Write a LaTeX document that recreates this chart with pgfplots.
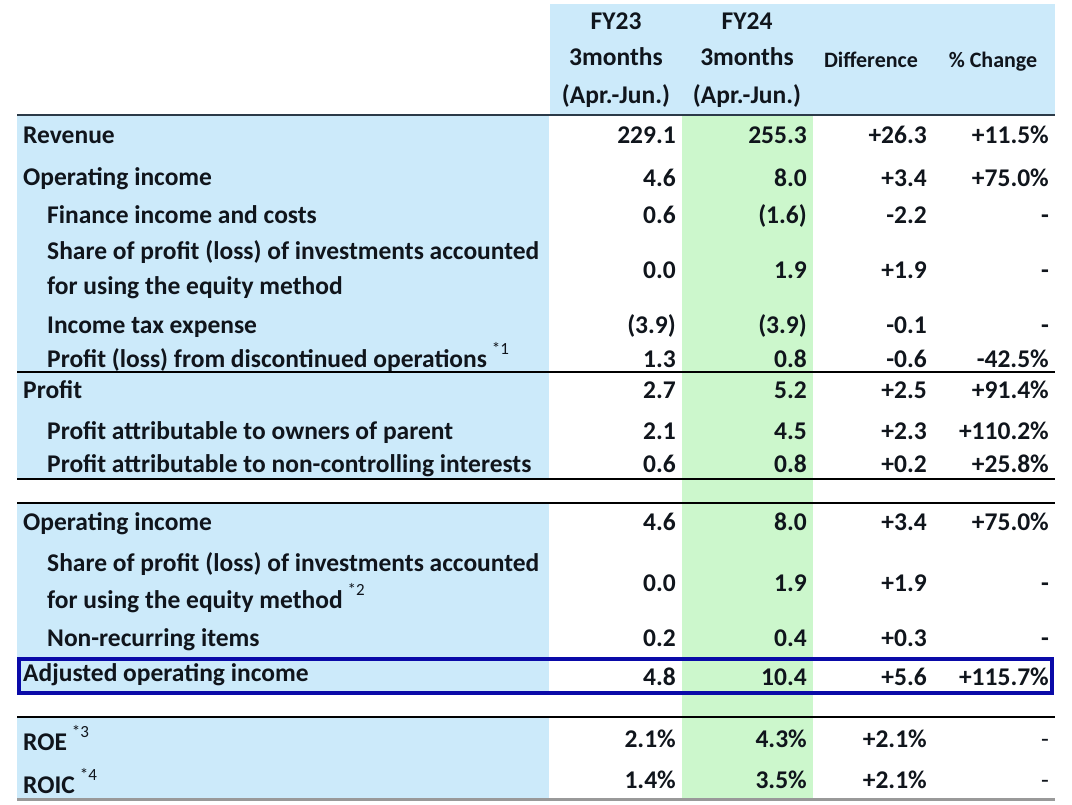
\documentclass[border=0pt]{standalone}
\usepackage{pgfplots}
\usepackage{pgfplotstable}
\pgfplotsset{compat=1.18}
\usepackage{fontspec}
\setmainfont{Carlito}
\definecolor{lblue}{RGB}{204,234,250}
\definecolor{lgreen}{RGB}{204,247,204}
\definecolor{txt}{HTML}{10151C}
\definecolor{boxblue}{HTML}{0A0AA8}
\definecolor{hline}{HTML}{2B3A48}
\protected\def\sup#1{\hspace{5bp}\raisebox{13bp}{\fontsize{17bp}{17bp}\selectfont\mdseries #1}}
\protected\def\hsmall{\fontsize{22bp}{26bp}\selectfont}
\protected\def\thin{\mdseries}

\pgfplotstableread[col sep=comma]{
y,a,b,d,p
144,229.1,255.3,+26.3,+11.5\%
186,4.6,8.0,+3.4,+75.0\%
223,0.6,(1.6),-2.2,-
278,0.0,1.9,+1.9,-
333,(3.9),(3.9),-0.1,-
367,1.3,0.8,-0.6,-42.5\%
398,2.7,5.2,+2.5,+91.4\%
439,2.1,4.5,+2.3,+110.2\%
472,0.6,0.8,+0.2,+25.8\%
530,4.6,8.0,+3.4,+75.0\%
591,0.0,1.9,+1.9,-
646,0.2,0.4,+0.3,-
685,4.8,10.4,+5.6,+115.7\%
747,2.1\%,4.3\%,+2.1\%,\thin -
788,1.4\%,3.5\%,+2.1\%,\thin -
}\valtable

\pgfplotstableread[col sep=comma]{
x,y,t
23,144,Revenue
23,185,Operating income
47,223,Finance income and costs
47,259,Share of profit (loss) of investments accounted
47,294,for using the equity method
47,333,Income tax expense
47,367,Profit (loss) from discontinued operations\sup{*1}
23,398,Profit
47,439,Profit attributable to owners of parent
47,472,Profit attributable to non-controlling interests
23,530,Operating income
47,571,Share of profit (loss) of investments accounted
47,608,for using the equity method\sup{*2}
47,646,Non-recurring items
23,681,Adjusted operating income
23,750,ROE\sup{*3}
23,793,ROIC\sup{*4}
}\labtable

\pgfplotstableread[col sep=comma]{
x,y,t
616,30,FY23
616,66,3months
616,104,(Apr.-Jun.)
747,30,FY24
747,66,3months
747,104,(Apr.-Jun.)
871,68,\hsmall Difference
993,68,\hsmall \% Change
}\headtable

\begin{document}
\begin{tikzpicture}
\useasboundingbox (0,0) rectangle (1072bp,805bp);
\begin{axis}[
  width=1072bp, height=805bp, scale only axis,
  xmin=0, xmax=1072, ymin=0, ymax=805, y dir=reverse,
  hide axis, clip=false,
  every node near coord/.append style={inner sep=0pt, text=txt, font=\fontsize{25.5bp}{30bp}\selectfont\bfseries},
]
% backgrounds
\addplot[fill=lblue, draw=none] coordinates {(17,115) (549,115) (549,479) (17,479)} -- cycle;
\addplot[fill=lblue, draw=none] coordinates {(17,503) (549,503) (549,695) (17,695)} -- cycle;
\addplot[fill=lblue, draw=none] coordinates {(17,717) (549,717) (549,799) (17,799)} -- cycle;
\addplot[fill=lblue, draw=none] coordinates {(550,4) (1055,4) (1055,115) (550,115)} -- cycle;
\addplot[fill=lgreen, draw=none] coordinates {(682,115) (813,115) (813,799) (682,799)} -- cycle;
% rules
\addplot[hline, line width=2.2bp] coordinates {(17,115) (1055,115)};
\addplot[black, line width=1.4bp] coordinates {(17,372) (1055,372)};
\addplot[black, line width=1.4bp] coordinates {(17,479) (1055,479)};
\addplot[black, line width=1.4bp] coordinates {(17,503) (1055,503)};
\addplot[black, line width=1.4bp] coordinates {(17,717) (1055,717)};
\addplot[gray!80, line width=3bp] coordinates {(17,799) (1055,799)};
\addplot[boxblue, line width=4bp] coordinates {(19,659) (1052,659) (1052,693) (19,693)} -- cycle;
% header
\addplot[draw=none, mark=none, nodes near coords, point meta=explicit symbolic,
  every node near coord/.append style={anchor=base}]
  table[x=x, y=y, meta=t] {\headtable};
% labels
\addplot[draw=none, mark=none, nodes near coords, point meta=explicit symbolic,
  every node near coord/.append style={anchor=base west}]
  table[x=x, y=y, meta=t] {\labtable};
% values
\addplot[draw=none, mark=none, nodes near coords, point meta=explicit symbolic,
  every node near coord/.append style={anchor=base east}]
  table[x expr=676, y=y, meta=a] {\valtable};
\addplot[draw=none, mark=none, nodes near coords, point meta=explicit symbolic,
  every node near coord/.append style={anchor=base east}]
  table[x expr=807, y=y, meta=b] {\valtable};
\addplot[draw=none, mark=none, nodes near coords, point meta=explicit symbolic,
  every node near coord/.append style={anchor=base east}]
  table[x expr=927, y=y, meta=d] {\valtable};
\addplot[draw=none, mark=none, nodes near coords, point meta=explicit symbolic,
  every node near coord/.append style={anchor=base east}]
  table[x expr=1049, y=y, meta=p] {\valtable};
\end{axis}
\end{tikzpicture}
\end{document}
